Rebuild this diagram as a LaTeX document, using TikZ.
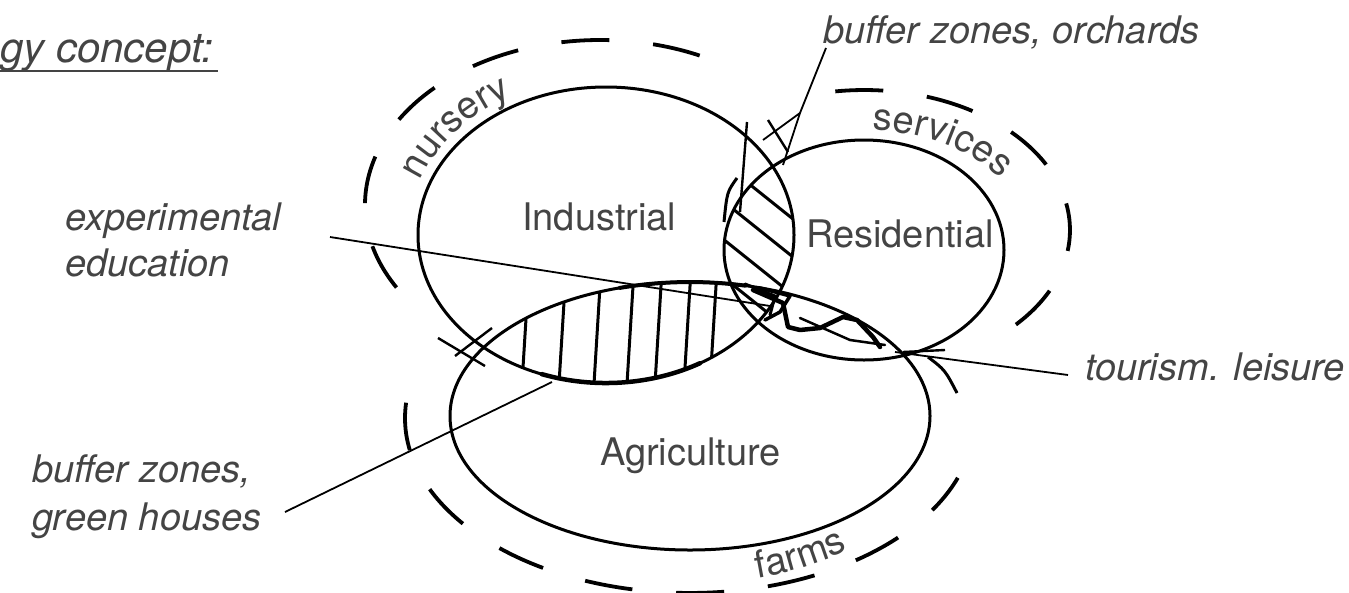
\documentclass[tikz,border=0pt]{standalone}
\usepackage{fontspec}
\setmainfont{TeX Gyre Heros}
\usetikzlibrary{decorations.text}
\definecolor{txt}{RGB}{68,68,68}
\tikzset{
  lbl/.style={font=\fontsize{38}{48}\selectfont\itshape, text=txt, inner sep=0pt, anchor=base west},
  zone/.style={font=\fontsize{38}{48}\selectfont, text=txt, inner sep=0pt, anchor=base west},
  solidring/.style={line width=3pt, draw=black},
  dashring/.style={line width=3.8pt, dash pattern=on 48pt off 44pt},
  leader/.style={line width=1.8pt},
  hatchline/.style={line width=3pt},
  rough/.style={line width=4.5pt, line join=round, line cap=round},
  arctext/.style={decorate, decoration={text along path, text align=center, text color=txt}},
}
\begin{document}
\begin{tikzpicture}[x=1pt,y=-1pt]
\useasboundingbox (0,0) rectangle (1349,592);
\fill[white] (0,0) rectangle (1349,592);

% ---------- hatching: Industrial x Agriculture (vertical)
\begin{scope}
  \clip (606,235) ellipse [x radius=188, y radius=148];
  \clip (690,416) ellipse [x radius=240, y radius=134];
  \foreach \hx in {525,562,597,630,658,687,713}
    \draw[hatchline] (\hx+4,270) -- (\hx-4,400);
\end{scope}
% ---------- hatching: Industrial x Residential (diagonal)
\begin{scope}
  \clip (606,235) ellipse [x radius=188, y radius=148];
  \clip (864,250) ellipse [x radius=140, y radius=110];
  \foreach \k in {0,1,2,3,4}
    \draw[hatchline] (700,144.6+38*\k) -- (820,240.6+38*\k);
\end{scope}

% ---------- solid rings
\draw[solidring] (606,235) ellipse [x radius=188, y radius=148];
\draw[solidring] (864,250) ellipse [x radius=140, y radius=110];
\draw[solidring] (690,416) ellipse [x radius=240, y radius=134];

% heavier edges of the lenses
\draw[rough, line width=4.5pt] (541.7,374.1) arc[start angle=110, end angle=60, x radius=188, y radius=148];
\draw[rough, line width=4pt] (619.8,287.9) arc[start angle=-107, end angle=-76.7, x radius=240, y radius=134];

% ---------- dashed outer rings
\draw[dashring] (396.5,287.5) arc[start angle=-210, end angle=-55, x radius=235, y radius=165];
\draw[dashring] (835.3,91.4) arc[start angle=-98, end angle=47, x radius=206, y radius=140];
\draw[dashring] (406.1,402.7) arc[start angle=-175, end angle=-340, x radius=285, y radius=175];

% ---------- zone labels along the rings
\path[arctext, decoration={text={|\fontsize{38}{48}\selectfont|nursery}}]
  (411,207.5) arc[start angle=-170, end angle=-110, x radius=198, y radius=158];
\path[arctext, decoration={text={|\fontsize{38}{48}\selectfont|services}}]
  (834.5,131.8) arc[start angle=-100, end angle=-20, x radius=170, y radius=120];
\path[arctext, decoration={text={|\fontsize{38}{48}\selectfont|farms}}]
  (690,584) arc[start angle=90, end angle=35, x radius=262, y radius=168];

% ---------- sector names
\node[zone] (ind) at (522,230) {Industrial};
\node[zone] (res) at (806,247) {Residential};
\node[zone] (agr) at (600,465) {Agriculture};

% ---------- title
\node[lbl, font=\fontsize{42}{48}\selectfont\itshape] (title) at (0,62) {gy concept:};
\coordinate (ulA) at (0,71);
\coordinate (ulB) at (218,71);
\draw[line width=2pt, draw=txt] (ulA) -- (ulB);

% ---------- annotation labels
\node[lbl] (exp1) at (65,230) {experimental};
\node[lbl] (exp2) at (65,276) {education};
\node[lbl] (bgh1) at (32,482) {buffer zones,};
\node[lbl] (bgh2) at (32,530) {green houses};
\node[lbl] (bor) at (823,43) {buffer zones, orchards};
\node[lbl] (tour) at (1085,380) {tourism. leisure};

% ---------- leader lines
\coordinate (expS) at (330,237);
\coordinate (expE) at (770,306);
\draw[leader] (expS) -- (expE);

\coordinate (bghS) at (285,512);
\coordinate (bghE) at (552,382);
\draw[leader] (bghS) -- (bghE);

\coordinate (tourS) at (1068,375);
\coordinate (tourE) at (895,352);
\draw[leader] (tourS) -- (tourE);

\coordinate (borS) at (826,48);
\coordinate (borK) at (800,113);
\coordinate (borE) at (783,165);
\coordinate (borT) at (763,140);
\draw[leader] (borS) -- (borK) -- (borE);
\draw[leader] (borK) -- (borT);

% ---------- sketch marks
\draw[line width=2.4pt] (768,120) -- (788,152);
\draw[line width=2.4pt] (747,122) -- (740,212);
\draw[line width=3pt] (737,178) .. controls (727,192) .. (724,222);
\draw[line width=2.4pt] (438,338) -- (485,366);
\draw[line width=2.4pt] (455,356) -- (492,328);
\draw[line width=2.4pt] (903,352) -- (945,350);
\draw[line width=3pt] (928,357) .. controls (945,370) .. (957,393);

% tourism scribble and dark junction
\draw[rough] (753,290) -- (783,303) -- (788,327) -- (800,330) -- (820,328)
  -- (843,317) -- (857,320) -- (873,337) -- (880,347);
\draw[rough, line width=3pt] (745,284) -- (775,296) -- (770,315);
\draw[rough, line width=3.5pt] (760,288) -- (790,296) -- (780,312) -- (765,320);
\draw[rough, line width=2.5pt] (800,318) -- (850,340) -- (885,345);
\end{tikzpicture}
\end{document}
